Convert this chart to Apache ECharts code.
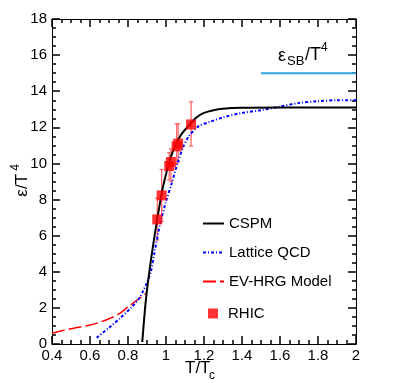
<!DOCTYPE html>
<html>
<head>
<meta charset="utf-8">
<script src="https://cdn.jsdelivr.net/npm/echarts@6/dist/echarts.min.js"></script>
<style>
  html, body { margin: 0; padding: 0; background: #fff; }
  #main { width: 396px; height: 383px; }
</style>
</head>
<body>
<div id="main"></div>
<script>
// CSPM curve
const cspmX = [0.875, 0.89, 0.9, 0.92, 0.94, 0.96, 0.98, 1.0, 1.02, 1.05, 1.08, 1.12, 1.16, 1.2, 1.25, 1.3, 1.4, 1.6, 2.0]
const cspmY = [0.1, 2.0, 3.0, 4.6, 6.0, 7.3, 8.5, 9.4, 10.2, 11.0, 11.6, 12.1, 12.55, 12.8, 12.95, 13.03, 13.08, 13.1, 13.1]
// Lattice QCD
const lqcdX = [0.635, 0.7, 0.76, 0.82, 0.86, 0.88, 0.9, 0.92, 0.94, 0.97, 1.0, 1.03, 1.06, 1.09, 1.12, 1.17, 1.23, 1.3, 1.4, 1.5, 1.6, 1.7, 1.8, 1.9, 2.0]
const lqcdY = [0.35, 0.9, 1.45, 2.05, 2.55, 2.95, 3.4, 4.0, 5.1, 6.7, 7.9, 8.9, 10.0, 10.9, 11.5, 12.05, 12.3, 12.55, 12.8, 12.95, 13.15, 13.35, 13.45, 13.5, 13.5]
// EV-HRG model
const hrgX = [0.4, 0.5, 0.6, 0.65, 0.7, 0.75, 0.8, 0.85, 0.9]
const hrgY = [0.6, 0.85, 1.05, 1.2, 1.4, 1.65, 2.05, 2.45, 2.85]
// RHIC points
const rhicX = [0.954, 0.977, 1.017, 1.026, 1.056, 1.064, 1.132]
const rhicY = [6.9, 8.23, 9.86, 10.08, 10.95, 11.1, 12.16]
const rhicLo = [5.76, 6.8, 9.1, 9.0, 10.0, 10.1, 10.96]
const rhicHi = [8.07, 9.67, 10.6, 10.8, 12.2, 12.2, 13.42]
// Stefan-Boltzmann limit
const sbX = [1.5, 2.0]
const sbY = [15, 15]

const FONT = '"Liberation Sans", Arial, sans-serif'
const pair = (xs, ys) => xs.map((x, i) => [x, ys[i]])

const chart = echarts.init(document.getElementById('main'))

// ROOT style frame: inward ticks on all four sides
const range = { x: [0.4, 2, 0.2], y: [0, 18, 2] }
const frameAxis = (kind, pos, labels) => ({
    type: 'value',
    position: pos,
    min: range[kind][0],
    max: range[kind][1],
    interval: range[kind][2],
    axisLine: { show: true, onZero: false, lineStyle: { color: '#000', width: 1 } },
    axisTick: { show: true, inside: true, length: 8, lineStyle: { color: '#000', width: 1.5 } },
    minorTick: { show: true, splitNumber: 4, length: 4, lineStyle: { color: '#000', width: 1.5 } },
    splitLine: { show: false },
    minorSplitLine: { show: false },
    axisLabel: labels
        ? { show: true, color: '#000', fontSize: 15, fontFamily: FONT, margin: kind === 'x' ? 4 : 5 }
        : { show: false }
})

const option = {
    backgroundColor: '#fff',
    animation: false,
    grid: { left: 52, right: 40, top: 19, bottom: 39 },
    xAxis: [frameAxis('x', 'bottom', true), frameAxis('x', 'top', false)],
    yAxis: [frameAxis('y', 'left', true), frameAxis('y', 'right', false)],
    legend: [{
        orient: 'vertical', left: 202, top: 216, padding: 0,
        itemWidth: 21, itemHeight: 14, itemGap: 14,
        itemStyle: { opacity: 0 },
        textStyle: { color: '#000', fontSize: 15, fontFamily: FONT },
        data: ['CSPM', 'Lattice QCD', 'EV-HRG Model']
    }, {
        orient: 'vertical', left: 208, top: 306, padding: 0,
        itemWidth: 10, itemHeight: 10,
        textStyle: { color: '#000', fontSize: 15, fontFamily: FONT, padding: [0, 0, 0, 5] },
        data: [{ name: 'RHIC', icon: 'rect' }]
    }],
    graphic: [
        { type: 'text', left: 185, top: 360, style: { text: 'T/T', font: '17px ' + FONT, fill: '#000' } },
        { type: 'text', left: 209, top: 370, style: { text: 'c', font: '12px ' + FONT, fill: '#000' } },
        {
            type: 'group', left: 10, top: 164, rotation: Math.PI / 2,
            children: [
                { type: 'text', x: 0, y: 0, style: { text: 'ε/T', font: '17px ' + FONT, fill: '#000' } },
                { type: 'text', x: 26, y: -4, style: { text: '4', font: '12px ' + FONT, fill: '#000' } }
            ]
        },
        { type: 'text', left: 278, top: 47, style: { text: 'ε', font: '18px ' + FONT, fill: '#000' } },
        { type: 'text', left: 287, top: 55, style: { text: 'SB', font: '13px ' + FONT, fill: '#000' } },
        { type: 'text', left: 305, top: 46, style: { text: '/T', font: '18px ' + FONT, fill: '#000' } },
        { type: 'text', left: 321, top: 42, style: { text: '4', font: '12px ' + FONT, fill: '#000' } }
    ],
    series: [
        {
            name: 'SB', type: 'line', data: pair(sbX, sbY), symbol: 'none',
            lineStyle: { color: '#2fa6e6', width: 2 }
        },
        {
            name: 'EV-HRG Model', type: 'line', data: pair(hrgX, hrgY), symbol: 'none', smooth: 0.3,
            itemStyle: { color: '#ff0000' },
            lineStyle: { color: '#ff0000', width: 1.5, type: [13, 4] }
        },
        {
            name: 'Lattice QCD', type: 'line', data: pair(lqcdX, lqcdY), symbol: 'none', smooth: 0.3,
            itemStyle: { color: '#0000ff' },
            lineStyle: { color: '#0000ff', width: 2, type: [3, 2, 1, 2] }
        },
        {
            name: 'CSPM', type: 'line', data: pair(cspmX, cspmY), symbol: 'none', smooth: 0.3,
            itemStyle: { color: '#000' },
            lineStyle: { color: '#000', width: 2 }
        },
        {
            // vertical error bars with small caps
            name: 'errors', type: 'custom',
            data: rhicX.map((x, i) => [x, rhicLo[i], rhicHi[i]]),
            renderItem: (params, api) => {
                const lo = api.coord([api.value(0), api.value(1)])
                const hi = api.coord([api.value(0), api.value(2)])
                const c = 2
                const st = { stroke: '#ff6a6a', lineWidth: 1.3 }
                return {
                    type: 'group',
                    children: [
                        { type: 'line', shape: { x1: lo[0], y1: lo[1], x2: hi[0], y2: hi[1] }, style: st },
                        { type: 'line', shape: { x1: lo[0] - c, y1: lo[1], x2: lo[0] + c, y2: lo[1] }, style: st },
                        { type: 'line', shape: { x1: hi[0] - c, y1: hi[1], x2: hi[0] + c, y2: hi[1] }, style: st }
                    ]
                }
            },
            z: 3
        },
        {
            name: 'RHIC', type: 'scatter', data: pair(rhicX, rhicY),
            symbol: 'rect', symbolSize: 10,
            itemStyle: { color: '#ff0000' },
            z: 4
        }
    ]
}
chart.setOption(option)
</script>
</body>
</html>
